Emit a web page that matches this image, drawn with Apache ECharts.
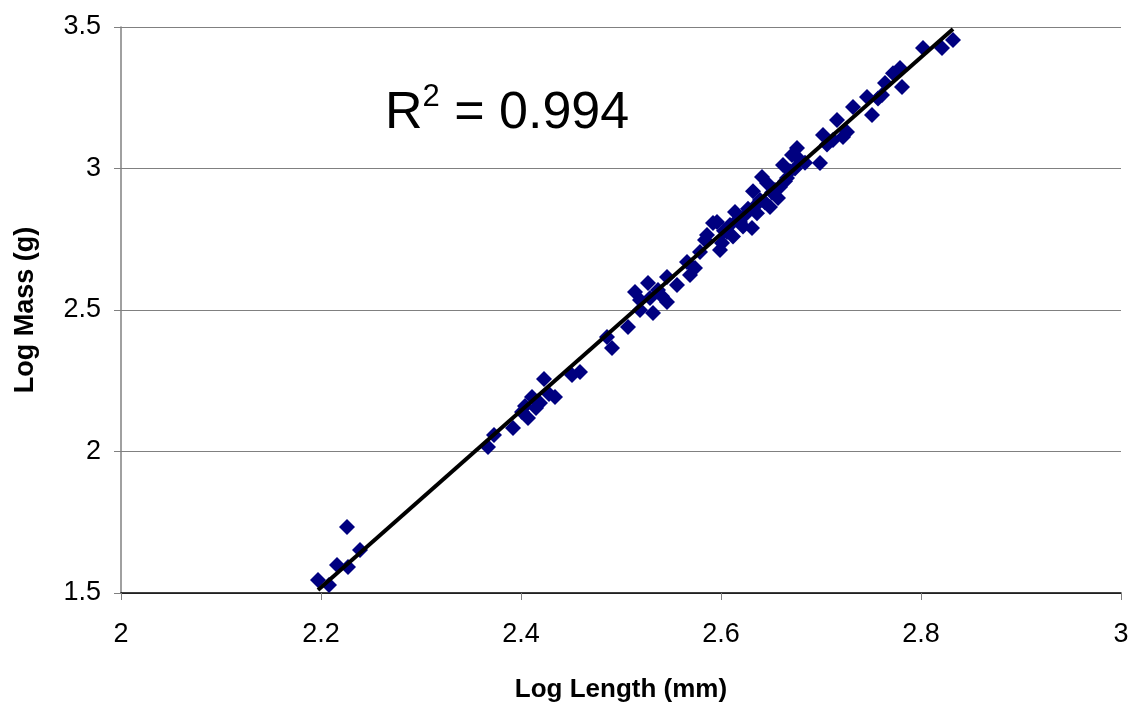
<!DOCTYPE html>
<html>
<head>
<meta charset="utf-8">
<script src="https://cdn.jsdelivr.net/npm/echarts@6/dist/echarts.min.js"></script>
<style>
  html, body { margin: 0; padding: 0; background: #fff; }
  #chart { width: 1137px; height: 711px; }
</style>
</head>
<body>
<div id="chart"></div>
<script>
// log length (mm) of each fish
const logLength = [
  2.197, 2.208, 2.216, 2.226, 2.227, 2.239,
  2.367, 2.373, 2.392, 2.401, 2.404, 2.407, 2.411, 2.415, 2.419, 2.423, 2.428, 2.434, 2.451, 2.459,
  2.486, 2.491, 2.507, 2.514, 2.519, 2.519, 2.527, 2.529, 2.532, 2.537, 2.541, 2.546, 2.546, 2.556,
  2.566, 2.569, 2.574, 2.579, 2.584, 2.586, 2.592, 2.596, 2.599, 2.601, 2.603, 2.606, 2.609, 2.612,
  2.614, 2.617, 2.619, 2.622, 2.624, 2.627, 2.631, 2.632, 2.634, 2.636, 2.639, 2.641, 2.644, 2.646,
  2.649, 2.651, 2.654, 2.657, 2.659, 2.662, 2.664, 2.666, 2.669, 2.671, 2.674, 2.676, 2.679, 2.684,
  2.699, 2.702, 2.706, 2.712, 2.716, 2.722, 2.726, 2.732, 2.746, 2.751, 2.757, 2.761, 2.764, 2.772,
  2.779, 2.781, 2.802, 2.821, 2.832
];
// log mass (g), same order
const logMass = [
  1.546, 1.528, 1.599, 1.733, 1.592, 1.652,
  2.016, 2.058, 2.083, 2.140, 2.161, 2.118, 2.193, 2.154, 2.171, 2.256, 2.203, 2.193, 2.270, 2.281,
  2.405, 2.366, 2.440, 2.564, 2.535, 2.500, 2.595, 2.542, 2.489, 2.571, 2.549, 2.617, 2.528, 2.588,
  2.670, 2.624, 2.648, 2.705, 2.747, 2.765, 2.807, 2.811, 2.712, 2.737, 2.780, 2.776, 2.800, 2.760,
  2.846, 2.820, 2.811, 2.795, 2.836, 2.858, 2.790, 2.920, 2.867, 2.842, 2.889, 2.970, 2.880, 2.949,
  2.864, 2.915, 2.924, 2.896, 2.935, 3.012, 2.955, 2.966, 2.990, 3.048, 3.000, 3.072, 3.030, 3.020,
  3.019, 3.118, 3.085, 3.101, 3.171, 3.111, 3.129, 3.217, 3.253, 3.189, 3.247, 3.260, 3.302, 3.337,
  3.355, 3.288, 3.426, 3.426, 3.454
];
// fitted trend line ends
const trendX = [2.197, 2.832];
const trendY = [1.511, 3.493];

const rSquared = "0.994";

const FONT = '"Liberation Sans", Arial, sans-serif';

const chart = echarts.init(document.getElementById("chart"));

const option = {
  backgroundColor: "#fff",
  animation: false,
  grid: { left: 121, right: 16, top: 27, bottom: 118 },
  xAxis: {
    type: "value",
    min: 2,
    max: 3,
    interval: 0.2,
    name: "Log Length (mm)",
    nameLocation: "middle",
    nameGap: 84,
    nameTextStyle: { fontFamily: FONT, fontSize: 26, fontWeight: "bold", color: "#000" },
    axisLine: { lineStyle: { color: "#000", width: 1.5 } },
    axisTick: { length: 7, lineStyle: { color: "#808080" } },
    axisLabel: { fontFamily: FONT, fontSize: 27, color: "#000", margin: 28 },
    splitLine: { show: false },
  },
  yAxis: {
    type: "value",
    min: 1.5,
    max: 3.5,
    interval: 0.5,
    name: "Log Mass (g)",
    nameLocation: "middle",
    nameGap: 82,
    nameRotate: 90,
    nameTextStyle: { fontFamily: FONT, fontSize: 27, fontWeight: "bold", color: "#000" },
    axisLine: { show: true, lineStyle: { color: "#808080", width: 1.5 } },
    axisTick: { show: true, length: 7, lineStyle: { color: "#808080" } },
    axisLabel: { fontFamily: FONT, fontSize: 27, color: "#000", margin: 20 },
    splitLine: { lineStyle: { color: "#808080", width: 1.2 } },
  },
  series: [
    {
      type: "scatter",
      symbol: "diamond",
      symbolSize: 16,
      itemStyle: { color: "#000080", opacity: 1 },
      data: logLength.map((x, i) => [x, logMass[i]]),
      z: 2,
    },
    {
      type: "line",
      showSymbol: false,
      symbol: "none",
      lineStyle: { color: "#000", width: 4 },
      data: trendX.map((x, i) => [x, trendY[i]]),
      z: 3,
    },
  ],
  graphic: [
    {
      type: "text",
      left: 385,
      top: 82,
      style: {
        text: "{r|R}{s|2}{r| = " + rSquared + "}",
        rich: {
          r: { fontFamily: FONT, fontSize: 52, color: "#000", lineHeight: 58, verticalAlign: "bottom" },
          s: { fontFamily: FONT, fontSize: 31, color: "#000", lineHeight: 58, verticalAlign: "top", padding: [0, 0, 22, 0] },
        },
      },
    },
  ],
};

chart.setOption(option);
</script>
</body>
</html>
